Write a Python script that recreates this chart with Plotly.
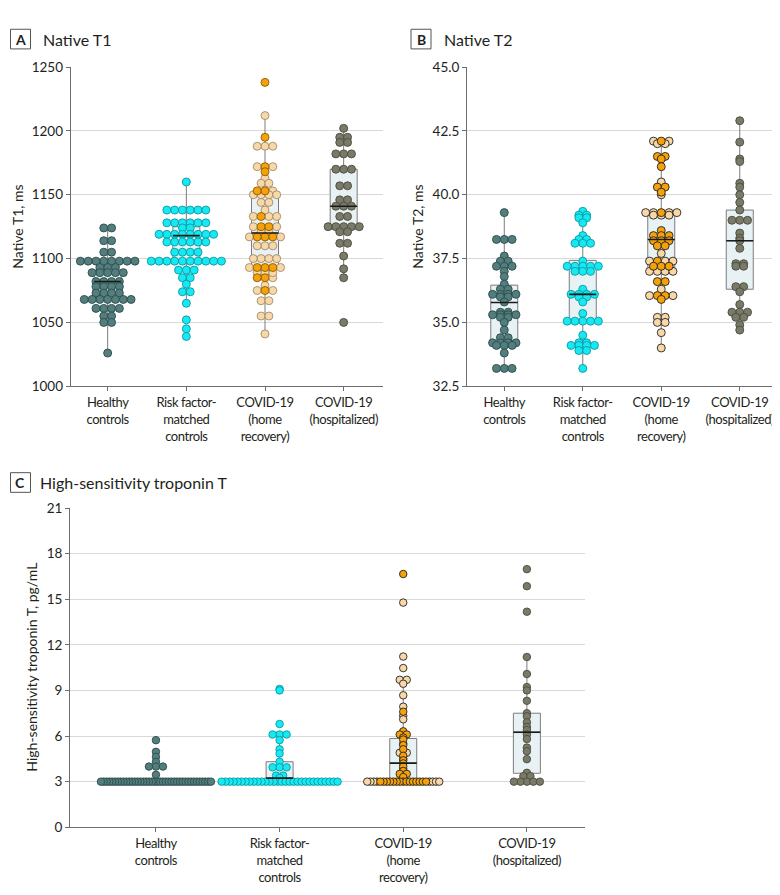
import plotly.graph_objects as go

W, H = 780, 895

cat_text = ["Healthy<br>controls", "Risk factor-<br>matched<br>controls",
            "COVID-19<br>(home<br>recovery)", "COVID-19<br>(hospitalized)"]
cat_pos = [0, 1, 2, 3]

# ---------------- Panel A: Native T1, ms (value / count pairs) ----------------
t1_healthy_vals = [1124, 1114, 1105, 1098, 1093, 1089, 1082, 1078, 1073, 1068, 1061, 1055, 1050, 1026]
t1_healthy_cnts = [2, 2, 2, 8, 3, 5, 4, 4, 4, 7, 4, 2, 2, 1]
t1_risk_vals = [1160, 1138, 1128, 1124, 1119, 1113, 1105, 1098, 1091, 1085, 1080, 1074, 1065, 1052, 1045, 1039]
t1_risk_cnts = [1, 6, 6, 2, 8, 6, 4, 10, 3, 2, 1, 2, 1, 1, 1, 1]
t1_home_light_vals = [1212, 1188, 1172, 1163, 1159, 1153, 1150, 1144, 1138, 1133, 1125, 1121, 1117, 1110,
                      1100, 1093, 1089, 1085, 1079, 1075, 1067, 1055, 1041]
t1_home_light_cnts = [1, 3, 2, 1, 2, 1, 4, 2, 1, 3, 2, 2, 2, 3, 4, 2, 3, 1, 1, 2, 2, 2, 1]
t1_home_dark_vals = [1238, 1195, 1172, 1168, 1153, 1133, 1125, 1117, 1093, 1085, 1075]
t1_home_dark_cnts = [1, 1, 1, 1, 2, 1, 2, 3, 3, 2, 1]
t1_hosp_vals = [1202, 1195, 1191, 1182, 1170, 1157, 1146, 1141, 1133, 1125, 1121, 1112, 1102, 1092, 1085, 1050]
t1_hosp_cnts = [1, 2, 2, 3, 3, 2, 2, 3, 2, 5, 2, 2, 1, 1, 1, 1]
t1_q1 = [1072, 1099, 1092, 1123]
t1_med = [1082, 1118, 1120, 1141]
t1_q3 = [1091, 1125, 1150, 1170]
t1_lo = [1026, 1065, 1041, 1085]
t1_hi = [1124, 1160, 1212, 1202]

# ---------------- Panel B: Native T2, ms ----------------
t2_healthy_vals = [39.3, 38.25, 37.6, 37.4, 37.2, 37.0, 36.8, 36.5, 36.3, 36.1, 36.0, 35.8, 35.4, 35.3,
                   35.2, 35.0, 34.7, 34.4, 34.2, 34.1, 33.8, 33.2]
t2_healthy_cnts = [1, 3, 1, 2, 3, 1, 1, 1, 2, 4, 2, 1, 2, 4, 2, 1, 1, 2, 4, 3, 1, 3]
t2_risk_vals = [39.35, 39.2, 39.1, 38.9, 38.4, 38.25, 38.1, 37.4, 37.2, 37.0, 36.3, 36.1, 36.0, 35.8,
                35.35, 35.05, 34.5, 34.2, 34.1, 33.9, 33.2]
t2_risk_cnts = [1, 2, 2, 1, 1, 2, 3, 1, 5, 3, 1, 4, 2, 1, 1, 5, 1, 2, 4, 2, 1]
t2_home_light_vals = [42.1, 42.0, 40.5, 40.0, 39.3, 39.2, 37.7, 37.4, 37.0, 36.3, 36.05, 35.2, 35.0, 34.6, 34.0]
t2_home_light_cnts = [2, 2, 1, 1, 4, 3, 1, 3, 4, 1, 2, 2, 2, 1, 1]
t2_home_dark_vals = [42.1, 41.5, 41.4, 41.1, 40.3, 40.1, 39.3, 38.6, 38.4, 38.2, 38.0, 37.4, 37.2, 36.6, 36.05, 35.9]
t2_home_dark_cnts = [1, 2, 1, 1, 2, 1, 1, 1, 3, 3, 2, 1, 3, 2, 2, 1]
t2_hosp_vals = [42.9, 42.06, 41.4, 41.3, 40.45, 40.3, 40.0, 39.7, 39.4, 39.0, 38.5, 38.3, 38.2, 37.9,
                37.3, 37.2, 36.4, 36.2, 35.7, 35.4, 35.2, 34.9, 34.7]
t2_hosp_cnts = [1, 1, 1, 1, 1, 1, 1, 1, 1, 3, 1, 1, 1, 1, 2, 2, 2, 1, 1, 3, 2, 1, 1]
t2_q1 = [34.3, 35.05, 37.03, 36.3]
t2_med = [35.78, 36.1, 38.25, 38.2]
t2_q3 = [36.46, 37.43, 39.2, 39.4]
t2_lo = [33.2, 33.2, 34.0, 34.7]
t2_hi = [39.3, 39.35, 42.1, 42.9]

# ---------------- Panel C: High-sensitivity troponin T, pg/mL ----------------
tr_healthy_vals = [5.73, 4.96, 4.63, 4.3, 3.99, 3.45, 3.0]
tr_healthy_cnts = [1, 1, 1, 1, 3, 1, 40]
tr_risk_vals = [9.1, 9.0, 6.79, 6.1, 5.73, 5.13, 4.85, 4.31, 3.94, 3.4, 3.25, 3.0]
tr_risk_cnts = [1, 1, 1, 3, 1, 1, 1, 1, 3, 2, 1, 30]
tr_home_light_vals = [14.78, 11.23, 10.47, 9.7, 9.44, 8.68, 7.93, 7.33, 7.1, 5.5, 4.9, 4.5, 3.83, 3.2, 3.0]
tr_home_light_cnts = [1, 1, 1, 2, 1, 1, 1, 1, 1, 1, 2, 1, 1, 1, 8]
tr_home_dark_vals = [16.66, 7.6, 6.31, 6.1, 5.9, 5.77, 5.4, 5.13, 4.7, 4.4, 4.2, 4.0, 3.7, 3.51, 3.3, 3.0]
tr_home_dark_cnts = [1, 1, 1, 2, 1, 1, 1, 1, 1, 1, 1, 1, 1, 2, 1, 15]
tr_hosp_vals = [16.98, 15.86, 14.18, 11.2, 10.08, 9.22, 9.0, 8.32, 7.5, 7.3, 6.9, 6.6, 6.4, 6.1, 5.8,
                5.24, 5.0, 4.48, 3.58, 3.36, 3.0]
tr_hosp_cnts = [1, 1, 1, 1, 1, 1, 1, 1, 1, 1, 1, 1, 1, 1, 1, 1, 1, 1, 1, 2, 5]
tr_q1 = [3.0, 3.0, 3.0, 3.55]
tr_med = [3.0, 3.23, 4.22, 6.25]
tr_q3 = [3.0, 4.31, 5.84, 7.5]
tr_lo = [3.0, 3.0, 3.0, 3.0]
tr_hi = [3.0, 6.1, 9.6, 11.2]

# ---------------- styles ----------------
FONT = "Lato"
TXT = "#231f20"
AX = "#6d6d6d"
GRID = "#d9d9d9"
BOX_FILL = "#e8f2f4"
BOX_LINE = "#7c7c7c"
HEALTHY, HEALTHY_E = "#527f7e", "#2d4b4a"
RISK, RISK_E = "#17e9f2", "#0a98a3"
TAN, ORANGE = "#f8d8a8", "#f5a10c"
HOSP, HOSP_E = "#7a7a68", "#4b4b40"
YTICK_SIZE = 13.5
XTICK_SIZE = 13
TITLE_SIZE = 16
YTITLE_SIZE = 14

tick_text_styled = ['<span style="letter-spacing:-0.45px">%s</span>' % t.replace(
    "<br>", '</span><br><span style="letter-spacing:-0.45px">') for t in cat_text]


def px_x(x):
    return x / W


def px_y(y):
    return 1 - y / H


panels = [
    dict(key="A", title="Native T1", ytitle="Native T1, ms", xd=(62.7, 375), yd=(52, 377),
         xr=(-0.47, 3.5), yr=(1000, 1250), dtick=50, fmt="d", msize=8, sp=7.8, boxw_px=27,
         label_xy=(12.5, 23.5), title_x=33, ytitle_x=10,
         groups=[[(t1_healthy_vals, t1_healthy_cnts, "h")], [(t1_risk_vals, t1_risk_cnts, "r")],
                 [(t1_home_dark_vals, t1_home_dark_cnts, "d"), (t1_home_light_vals, t1_home_light_cnts, "l")],
                 [(t1_hosp_vals, t1_hosp_cnts, "p")]],
         caps=[None, None, None, None], box=(t1_q1, t1_med, t1_q3, t1_lo, t1_hi), home_edge=("#a08c6c", "#8f5d00")),
    dict(key="B", title="Native T2", ytitle="Native T2, ms", xd=(459, 771), yd=(52, 377),
         xr=(-0.475, 3.5), yr=(32.5, 45), dtick=2.5, fmt=".1f", msize=8, sp=7.8, boxw_px=27,
         label_xy=(413, 23.5), title_x=434, ytitle_x=410,
         groups=[[(t2_healthy_vals, t2_healthy_cnts, "h")], [(t2_risk_vals, t2_risk_cnts, "r")],
                 [(t2_home_dark_vals, t2_home_dark_cnts, "d"), (t2_home_light_vals, t2_home_light_cnts, "l")],
                 [(t2_hosp_vals, t2_hosp_cnts, "p")]],
         caps=[None, None, None, None], box=(t2_q1, t2_med, t2_q3, t2_lo, t2_hi), home_edge=("#222222", "#222222")),
    dict(key="C", title="High-sensitivity troponin T", ytitle="High-sensitivity troponin T, pg/mL",
         xd=(62, 577), yd=(501, 826), xr=(-0.695, 3.47), yr=(0, 21), dtick=3, fmt="d", msize=7.5, sp=7,
         boxw_px=27, label_xy=(12.5, 475), title_x=30, ytitle_x=24,
         groups=[[(tr_healthy_vals, tr_healthy_cnts, "h")], [(tr_risk_vals, tr_risk_cnts, "r")],
                 [(tr_home_dark_vals, tr_home_dark_cnts, "d"), (tr_home_light_vals, tr_home_light_cnts, "l")],
                 [(tr_hosp_vals, tr_hosp_cnts, "p")]],
         caps=[110, 116, 72, 26], box=(tr_q1, tr_med, tr_q3, tr_lo, tr_hi), home_edge=("#222222", "#222222")),
]

KIND_ORDER = ["d", "l", "h", "r", "p"]


def swarm(center, series, sp_px, ppu, cap_px):
    rows = {}
    for vals, cnts, kind in series:
        for v, c in zip(vals, cnts):
            rows.setdefault(v, []).extend([kind] * c)
    out = {}
    for v, members in rows.items():
        k = len(members)
        sp = sp_px
        if cap_px is not None and k > 1 and (k - 1) * sp > cap_px:
            sp = cap_px / (k - 1)
        offs = [(i - (k - 1) / 2) * sp for i in range(k)]
        offs_sorted = sorted(offs, key=lambda o: (abs(o), o))
        mem_sorted = sorted(members, key=lambda m: KIND_ORDER.index(m))
        for m, o in zip(mem_sorted, offs_sorted):
            xs, ys = out.setdefault(m, ([], []))
            xs.append(center + o / ppu)
            ys.append(v)
    return out


fig = go.Figure()
layout = dict(width=W, height=H, margin=dict(l=0, r=0, t=0, b=0), paper_bgcolor="white",
              plot_bgcolor="white", showlegend=False, font=dict(family=FONT, color=TXT, size=XTICK_SIZE))
shapes, annotations = [], []

for i, p in enumerate(panels):
    n = "" if i == 0 else str(i + 1)
    xa, ya = "x" + n, "y" + n
    ppu = (p["xd"][1] - p["xd"][0]) / (p["xr"][1] - p["xr"][0])
    bw = p["boxw_px"] / ppu
    q1, med, q3, lo, hi = p["box"]
    fig.add_trace(go.Box(x=cat_pos, q1=q1, median=med, q3=q3, lowerfence=lo, upperfence=hi,
                         width=bw, whiskerwidth=0.3, fillcolor=BOX_FILL, boxpoints=False,
                         line=dict(color=BOX_LINE, width=1), xaxis=xa, yaxis=ya, hoverinfo="skip"))
    styles = {
        "h": (HEALTHY, HEALTHY_E), "r": (RISK, RISK_E), "p": (HOSP, HOSP_E),
        "l": (TAN, p["home_edge"][0]), "d": (ORANGE, p["home_edge"][1]),
    }
    for c, series in enumerate(p["groups"]):
        sw = swarm(cat_pos[c], series, p["sp"], ppu, p["caps"][c])
        for kind in ["l", "d", "h", "r", "p"]:
            if kind not in sw:
                continue
            xs, ys = sw[kind]
            fc, ec = styles[kind]
            fig.add_trace(go.Scatter(x=xs, y=ys, mode="markers", xaxis=xa, yaxis=ya, hoverinfo="skip",
                                     marker=dict(size=p["msize"], color=fc, line=dict(color=ec, width=0.9))))
    mx, my = [], []
    for c in range(4):
        if q1[c] == q3[c]:
            continue
        mx += [cat_pos[c] - bw / 2, cat_pos[c] + bw / 2, None]
        my += [med[c], med[c], None]
    fig.add_trace(go.Scatter(x=mx, y=my, mode="lines", line=dict(color="#1a1a1a", width=1.6),
                             xaxis=xa, yaxis=ya, hoverinfo="skip"))

    xkey = "xaxis" + n
    ykey = "yaxis" + n
    layout[xkey] = dict(domain=[px_x(p["xd"][0]), px_x(p["xd"][1])], range=list(p["xr"]), anchor=ya,
                        tickmode="array", tickvals=cat_pos, ticktext=tick_text_styled, showgrid=False,
                        zeroline=False, showline=True, linecolor=AX, linewidth=1, ticks="outside",
                        ticklen=4, tickcolor=AX, tickfont=dict(size=XTICK_SIZE, color=TXT), fixedrange=True)
    layout[ykey] = dict(domain=[px_y(p["yd"][1]), px_y(p["yd"][0])], range=list(p["yr"]), anchor=xa,
                        dtick=p["dtick"], tick0=p["yr"][0], tickformat=p["fmt"], showgrid=True,
                        gridcolor=GRID, gridwidth=1, zeroline=False, showline=True, linecolor=AX,
                        linewidth=1, ticks="outside", ticklen=4, tickcolor=AX,
                        tickfont=dict(size=YTICK_SIZE, color=TXT), fixedrange=True)
    lx, ly = p["label_xy"]
    shapes.append(dict(type="rect", xref="paper", yref="paper", x0=px_x(lx - 10), x1=px_x(lx + 10),
                       y0=px_y(ly + 10), y1=px_y(ly - 10), line=dict(color="#555555", width=1)))
    annotations.append(dict(xref="paper", yref="paper", x=px_x(lx), y=px_y(ly), text="<b>%s</b>" % p["key"],
                            showarrow=False, xanchor="center", yanchor="middle",
                            font=dict(size=14, color=TXT, family=FONT)))
    annotations.append(dict(xref="paper", yref="paper", x=px_x(p["title_x"]), y=px_y(ly), text=p["title"],
                            showarrow=False, xanchor="left", yanchor="middle",
                            font=dict(size=TITLE_SIZE, color=TXT, family=FONT)))
    annotations.append(dict(xref="paper", yref="paper", x=px_x(p["ytitle_x"]),
                            y=px_y((p["yd"][0] + p["yd"][1]) / 2), text=p["ytitle"], textangle=-90,
                            showarrow=False, xanchor="center", yanchor="middle",
                            font=dict(size=YTITLE_SIZE, color=TXT, family=FONT)))

layout["shapes"] = shapes
layout["annotations"] = annotations
fig.update_layout(**layout)
fig.write_html("out.html")
